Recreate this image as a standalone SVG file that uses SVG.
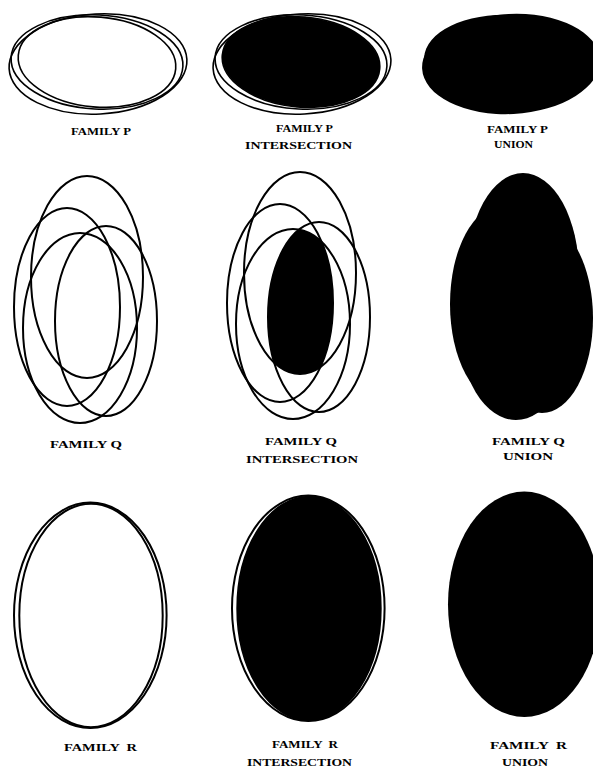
<svg xmlns="http://www.w3.org/2000/svg" width="593" height="767" viewBox="0 0 593 767">
<style>
.ol{fill:none;stroke:#000;stroke-width:1.6}
.olq{fill:none;stroke:#000;stroke-width:2}
.blk{fill:#000;stroke:none}
.lbl{font-family:"Liberation Serif","Times New Roman",serif;font-weight:bold;font-size:11px;fill:#000;white-space:pre}
</style>
<defs>
<g id="pSet">
<ellipse cx="98" cy="64" rx="89" ry="50" transform="rotate(-3 98 64)"/>
<ellipse cx="97" cy="62" rx="86" ry="47" transform="rotate(3 97 62)"/>
<ellipse cx="97" cy="62" rx="79" ry="45" transform="rotate(5 97 62)"/>
</g>
<clipPath id="pA"><ellipse cx="98" cy="64" rx="89" ry="50" transform="rotate(-3 98 64)"/></clipPath>
<clipPath id="pB"><ellipse cx="97" cy="62" rx="86" ry="47" transform="rotate(3 97 62)"/></clipPath>
<g id="qSet">
<ellipse cx="87" cy="277" rx="56" ry="101"/>
<ellipse cx="67" cy="307" rx="53" ry="99"/>
<ellipse cx="80" cy="328" rx="57" ry="95"/>
<ellipse cx="106" cy="321" rx="51" ry="95"/>
</g>
<clipPath id="q1"><ellipse cx="87" cy="277" rx="56" ry="101"/></clipPath>
<clipPath id="q2"><ellipse cx="67" cy="307" rx="53" ry="99"/></clipPath>
<clipPath id="q3"><ellipse cx="80" cy="328" rx="57" ry="95"/></clipPath>
<g id="rSet">
<ellipse cx="90.3" cy="615.3" rx="76.3" ry="112.7"/>
<ellipse cx="91" cy="615.5" rx="71.7" ry="111.7"/>
</g>
</defs>

<g id="family-p">
<use href="#pSet" class="ol"/>
<text class="lbl" x="71" y="135" textLength="60" lengthAdjust="spacingAndGlyphs">FAMILY P</text>
</g>

<g id="family-p-intersection">
<g transform="translate(204,0)">
<g clip-path="url(#pA)"><g clip-path="url(#pB)">
<ellipse class="blk" cx="97" cy="62" rx="79" ry="45" transform="rotate(5 97 62)"/>
</g></g>
<use href="#pSet" class="ol"/>
</g>
<text class="lbl" x="276" y="132" textLength="57" lengthAdjust="spacingAndGlyphs">FAMILY P</text>
<text class="lbl" x="245" y="149" textLength="107" lengthAdjust="spacingAndGlyphs">INTERSECTION</text>
</g>

<g id="family-p-union">
<use href="#pSet" class="blk" transform="translate(413,0)"/>
<text class="lbl" x="487" y="133" textLength="61" lengthAdjust="spacingAndGlyphs">FAMILY P</text>
<text class="lbl" x="494" y="148" textLength="39" lengthAdjust="spacingAndGlyphs">UNION</text>
</g>

<g id="family-q">
<use href="#qSet" class="olq"/>
<text class="lbl" x="50" y="448" textLength="72" lengthAdjust="spacingAndGlyphs">FAMILY Q</text>
</g>

<g id="family-q-intersection">
<g transform="translate(213,-4)">
<g clip-path="url(#q1)"><g clip-path="url(#q2)"><g clip-path="url(#q3)">
<ellipse class="blk" cx="106" cy="321" rx="51" ry="95"/>
</g></g></g>
<use href="#qSet" class="olq"/>
</g>
<text class="lbl" x="265" y="445" textLength="72" lengthAdjust="spacingAndGlyphs">FAMILY Q</text>
<text class="lbl" x="246" y="463" textLength="112" lengthAdjust="spacingAndGlyphs">INTERSECTION</text>
</g>

<g id="family-q-union">
<use href="#qSet" class="blk" transform="translate(436,-3)"/>
<text class="lbl" x="492" y="445" textLength="73" lengthAdjust="spacingAndGlyphs">FAMILY Q</text>
<text class="lbl" x="503" y="460" textLength="50" lengthAdjust="spacingAndGlyphs">UNION</text>
</g>

<g id="family-r">
<use href="#rSet" class="olq"/>
<text class="lbl" x="64" y="751" textLength="73" lengthAdjust="spacingAndGlyphs">FAMILY  R</text>
</g>

<g id="family-r-intersection">
<g transform="translate(218,-7)">
<ellipse class="blk" cx="91" cy="615.5" rx="71.7" ry="111.7"/>
<use href="#rSet" class="olq"/>
</g>
<text class="lbl" x="272" y="748" textLength="66" lengthAdjust="spacingAndGlyphs">FAMILY  R</text>
<text class="lbl" x="247" y="766" textLength="105" lengthAdjust="spacingAndGlyphs">INTERSECTION</text>
</g>

<g id="family-r-union">
<use href="#rSet" class="blk" transform="translate(434,-11)"/>
<text class="lbl" x="490" y="749" textLength="77" lengthAdjust="spacingAndGlyphs">FAMILY  R</text>
<text class="lbl" x="502" y="766" textLength="46" lengthAdjust="spacingAndGlyphs">UNION</text>
</g>
</svg>
